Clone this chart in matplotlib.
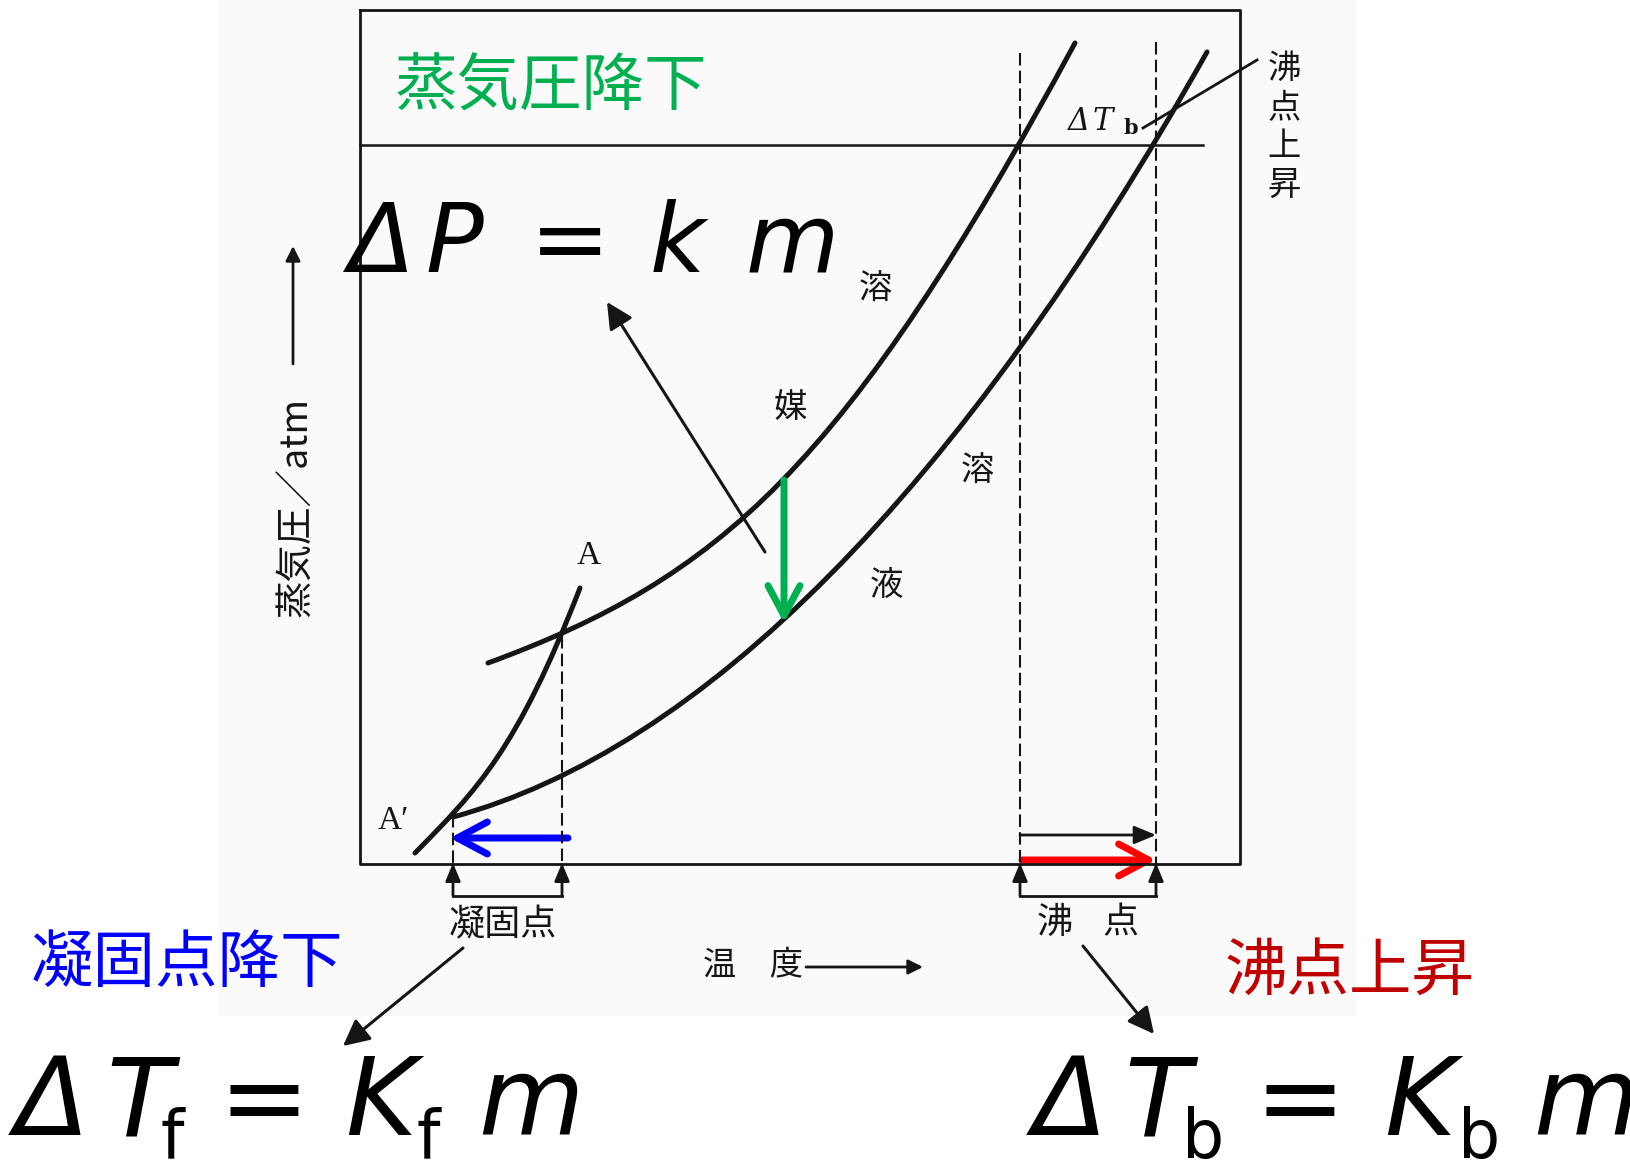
import matplotlib.pyplot as plt
from matplotlib.patches import FancyArrowPatch, Rectangle, PathPatch
from matplotlib.path import Path

plt.rcParams['font.family'] = ['Noto Sans CJK JP', 'DejaVu Sans']

# Bezier control points of the three curves
# (pixel coordinates of the original figure, y pointing down)
solvent_x = [488, 719, 844, 1075]
solvent_y = [663, 578, 470, 43]

solution_x = [453, 701, 959, 1207]
solution_y = [817, 750, 493, 52]

solid_x = [415, 477, 517, 580]
solid_y = [853, 790, 750, 588]

freeze_x = [453, 562]        # solution / solvent freezing point
freeze_top = [815, 636]
boil_x = [1020, 1156]        # solvent / solution boiling point
boil_top = [53, 42]
p_atm = 145                  # 1 atm line

fig = plt.figure(figsize=(16.3, 11.61), dpi=100)
ax = fig.add_axes([0, 0, 1, 1])
ax.set_xlim(0, 1630)
ax.set_ylim(1161, 0)
ax.axis('off')

ink = '#151515'


def arrow(p0, p1, style='-|>', color=ink, lw=2.2, ms=20):
    ax.add_patch(FancyArrowPatch(p0, p1, arrowstyle=style, mutation_scale=ms, color=color,
                                 lw=lw, shrinkA=0, shrinkB=0, capstyle='round', joinstyle='round'))


def curve(xs, ys):
    codes = [Path.MOVETO, Path.CURVE4, Path.CURVE4, Path.CURVE4]
    ax.add_patch(PathPatch(Path(list(zip(xs, ys)), codes), fill=False, edgecolor=ink,
                           lw=3.6, capstyle='round'))


# faint scan background
ax.add_patch(Rectangle((218, 0), 1137, 1015, color='#fafafa', zorder=0))

# frame + 1 atm line
ax.plot([360, 1240, 1240, 360, 360], [10, 10, 864, 864, 10], color=ink, lw=2.0)
ax.plot([360, 1203], [p_atm, p_atm], color=ink, lw=1.8)

# curves
curve(solvent_x, solvent_y)
curve(solution_x, solution_y)
curve(solid_x, solid_y)

# dashed drop lines
for x, top in zip(freeze_x + boil_x, freeze_top + boil_top):
    ax.plot([x, x], [top, 864], color=ink, lw=1.5, dashes=(6, 2.5))

# brackets with arrows under the axis
for xs in (freeze_x, boil_x):
    ax.plot([xs[0], xs[1]], [896, 896], color=ink, lw=2.0)
    for x in xs:
        arrow((x, 896), (x, 863), style='-|>,head_length=0.6,head_width=0.25', lw=2.0, ms=18)
arrow((boil_x[0], 835), (boil_x[1], 835), style='-|>,head_length=0.6,head_width=0.25', lw=2.0, ms=22)

# coloured arrows
arrow((freeze_x[1] + 6, 838), (freeze_x[0] - 3, 838), style='->,head_length=0.6,head_width=0.32',
      color='#0000ff', lw=5, ms=36)
arrow((boil_x[0] + 2, 860), (boil_x[1], 860), style='->,head_length=0.6,head_width=0.32',
      color='#ff0000', lw=5, ms=36)
arrow((784, 480), (784, 623), style='->,head_length=0.6,head_width=0.32',
      color='#00b050', lw=5, ms=36)

# black pointer arrows
arrow((765, 552), (607, 302), lw=2.2, ms=40)
arrow((463, 948), (343, 1046), lw=2.2, ms=40)
arrow((1083, 946), (1154, 1034), lw=2.2, ms=40)

# axis labels of the scanned figure
ax.text(296, 507, '蒸気圧／atm', rotation=90, fontsize=27, color=ink, ha='center', va='center')
arrow((293, 364), (293, 246), lw=2.0, ms=22)
ax.text(753, 965, '温　度', fontsize=24, color=ink, ha='center', va='center')
arrow((806, 967), (923, 967), lw=2.0, ms=22)

for s, x, y in [('溶', 875, 289), ('媒', 790, 407), ('溶', 977, 471), ('液', 886, 585)]:
    ax.text(x, y, s, fontsize=24, color=ink, ha='center', va='center')
ax.text(589, 556, 'A', fontsize=24, family='Liberation Serif', color=ink, ha='center', va='center')
ax.text(393, 821, 'A′', fontsize=24, family='Liberation Serif', color=ink, ha='center', va='center')
ax.text(503, 925, '凝固点', fontsize=26, color=ink, ha='center', va='center')
ax.text(1055, 923, '沸', fontsize=26, color=ink, ha='center', va='center')
ax.text(1121, 923, '点', fontsize=26, color=ink, ha='center', va='center')
ax.text(1284, 127, '沸\n点\n上\n昇', fontsize=24, color=ink, ha='center', va='center', linespacing=1.15)
ax.plot([1143, 1257], [128, 60], color=ink, lw=2.0)
ax.text(1068, 130, 'Δ', fontsize=22, family='DejaVu Serif', style='italic', color=ink, va='baseline')
ax.text(1093, 130, 'T', fontsize=22, family='DejaVu Serif', style='italic', color=ink, va='baseline')
ax.text(1123, 134, 'b', fontsize=15, family='DejaVu Serif', weight='bold', color=ink, va='baseline')

# overlaid annotations
ax.text(551, 88, '蒸気圧降下', color='#00b050', fontsize=45, ha='center', va='center')
ax.text(187, 964, '凝固点降下', color='#0000ff', fontsize=45, ha='center', va='center')
ax.text(1350, 972, '沸点上昇', color='#c00000', fontsize=45, ha='center', va='center')

sans = 'DejaVu Sans'
# ΔP = k m
ax.text(348, 272, 'Δ', fontsize=69, family=sans, style='italic', va='baseline')
ax.text(425, 272, 'P', fontsize=69, family=sans, style='italic', va='baseline')
ax.text(570, 272, '=', fontsize=69, family=sans, ha='center', va='baseline')
ax.text(650, 272, 'k', fontsize=69, family=sans, style='italic', va='baseline')
ax.text(746, 272, 'm', fontsize=69, family=sans, style='italic', va='baseline')

# ΔTf = Kf m  and  ΔTb = Kb m
for dx, sub, sub_x, eq_x, k_x, ksub_x, m_x in [(0, 'f', 161, 264, 345, 417, 478),
                                               (1018, 'b', 1182, 1300, 1384, 1458, 1533)]:
    ax.text(15 + dx, 1135, 'Δ', fontsize=78, family=sans, style='italic', va='baseline')
    ax.text(106 + dx, 1135, 'T', fontsize=78, family=sans, style='italic', va='baseline')
    ax.text(sub_x, 1158, sub, fontsize=48, family=sans, va='baseline')
    ax.text(eq_x, 1135, '=', fontsize=78, family=sans, ha='center', va='baseline')
    ax.text(k_x, 1135, 'K', fontsize=78, family=sans, style='italic', va='baseline')
    ax.text(ksub_x, 1158, sub, fontsize=48, family=sans, va='baseline')
    ax.text(m_x, 1135, 'm', fontsize=78, family=sans, style='italic', va='baseline')

plt.savefig('out.png')
